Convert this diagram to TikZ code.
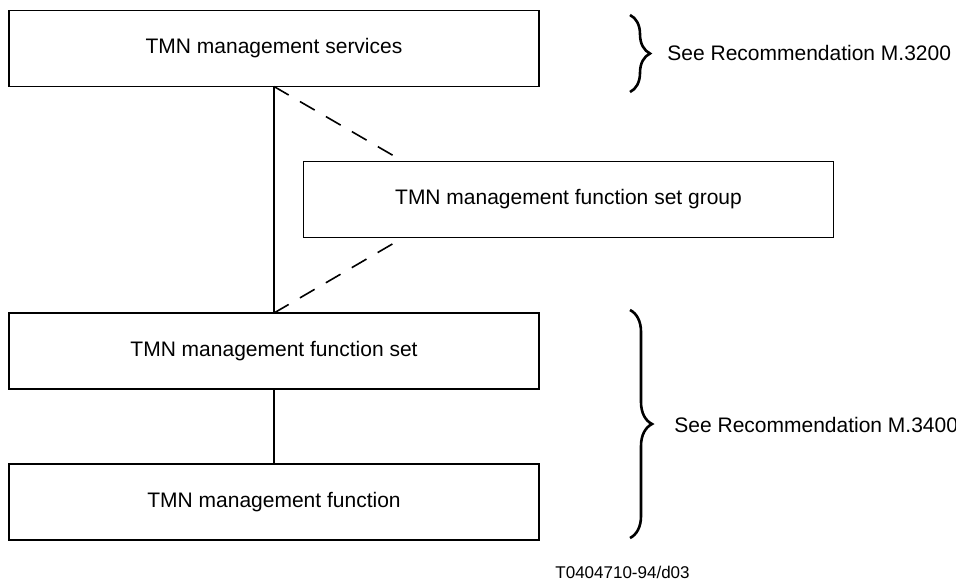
\documentclass[tikz,border=0pt]{standalone}
\usepackage{fontspec}
\setmainfont{Liberation Sans}
\usetikzlibrary{decorations.pathreplacing}

\begin{document}
\begin{tikzpicture}[x=0.5pt,y=-0.5pt,
	box/.style={draw,line width=0.7pt,outer sep=0pt,minimum width=265pt,minimum height=38pt,font=\fontsize{10.5}{12}\selectfont},
	note/.style={anchor=west,inner sep=0pt,font=\fontsize{10.5}{12}\selectfont},
	bracket/.style={decorate,decoration={brace,amplitude=#1},line width=1.3pt},
	link/.style={line width=0.8pt}]
	\useasboundingbox (0,0) rectangle (956,580);
	\node[box] (services) at (274,48.5) {TMN management services};
	\node[box] (fsgroup) at (568.5,199.5) {TMN management function set group};
	\node[box] (fset) at (274,351) {TMN management function set};
	\node[box] (func) at (274,502) {TMN management function};
	\draw[link] (services) -- (fset);
	\draw[link] (fset) -- (func);
	\draw[link,dash pattern=on 8.5pt off 6.5pt,shorten >=5pt] (services.south) -- ([xshift=50pt]fsgroup.north west);
	\draw[link,dash pattern=on 8.5pt off 6.5pt,shorten >=5pt] (fset.north) -- ([xshift=50pt]fsgroup.south west);
	% braces on the right
	\draw[bracket=10pt] (630,15) -- (630,92);
	\draw[bracket=11pt] (630,310) -- (630,538);
	\node[note] (m3200) at (667,53) {See Recommendation M.3200};
	\node[note] (m3400) at (674,425) {See Recommendation M.3400};
	\node[note,font=\fontsize{8.5}{10}\selectfont] (figid) at (555,572) {T0404710-94/d03};
\end{tikzpicture}
\end{document}
